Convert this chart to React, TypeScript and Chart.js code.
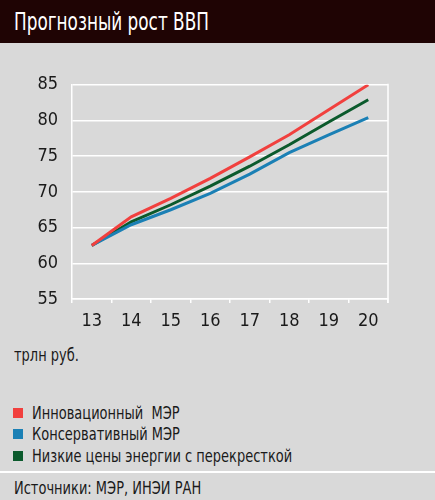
import { useEffect, useRef } from "react";
import { Chart, registerables } from "chart.js";

Chart.register(...registerables);

const years = ["13", "14", "15", "16", "17", "18", "19", "20"];
const innovative = [62.5, 66.5, 69.1, 71.9, 74.9, 78.0, 81.5, 85.0];
const conservative = [62.5, 65.4, 67.5, 69.8, 72.5, 75.5, 78.0, 80.4];
const lowEnergy = [62.5, 65.8, 68.2, 70.8, 73.6, 76.6, 79.8, 82.9];
const seriesNames = [
    "Инновационный  МЭР",
    "Консервативный МЭР",
    "Низкие цены энергии с перекресткой",
];
const seriesColors = ["#f1403e", "#1b80b5", "#0b5a2c"];

const FONT = "'Liberation Sans Narrow', 'DejaVu Sans Condensed', 'Roboto Condensed', sans-serif";

// narrow text like the original's condensed face
const Narrow = ({ children, k = 0.85 }: { children: React.ReactNode; k?: number }) => (
    <span style={{ display: "inline-block", transform: `scaleX(${k})`, transformOrigin: "left center", whiteSpace: "pre" }}>
        {children}
    </span>
);

const rightBorder = {
    id: "rightBorder",
    afterDraw(chart: Chart) {
        const { ctx, chartArea } = chart;
        ctx.save();
        ctx.strokeStyle = "#ffffff";
        ctx.lineWidth = 1.5;
        ctx.beginPath();
        ctx.moveTo(chartArea.right, chartArea.top - 1);
        ctx.lineTo(chartArea.right, chartArea.bottom + 4);
        ctx.stroke();
        ctx.restore();
    },
};

const GdpChart = () => {
    const chartRef = useRef<HTMLCanvasElement>(null);

    useEffect(() => {
        let chartInstance: Chart<"line", number[], string> | undefined;
        if (chartRef.current) {
            chartInstance = new Chart(chartRef.current, {
                type: "line",
                data: {
                    labels: years,
                    datasets: [innovative, conservative, lowEnergy].map((d, i) => ({
                        label: seriesNames[i],
                        data: d,
                        borderColor: seriesColors[i],
                        backgroundColor: seriesColors[i],
                        borderWidth: 3,
                        pointRadius: 0,
                        fill: false,
                        tension: 0,
                    })),
                },
                options: {
                    animation: false,
                    responsive: false,
                    devicePixelRatio: 1,
                    layout: { padding: { left: 0, right: 47, top: 22, bottom: 0 } },
                    plugins: {
                        legend: { display: false },
                        tooltip: { enabled: false },
                    },
                    scales: {
                        x: {
                            offset: true,
                            grid: {
                                offset: true,
                                drawOnChartArea: false,
                                tickLength: 4,
                                tickColor: "#ffffff",
                                lineWidth: 1.5,
                            },
                            border: { color: "#ffffff", width: 1.5 },
                            ticks: {
                                color: "#1a1a1a",
                                padding: 8,
                                font: { family: FONT, size: 18 },
                                maxRotation: 0,
                            },
                            afterFit: (scale) => {
                                scale.height = 41;
                            },
                        },
                        y: {
                            min: 55,
                            max: 85,
                            ticks: {
                                stepSize: 5,
                                color: "#1a1a1a",
                                padding: 14,
                                font: { family: FONT, size: 18 },
                            },
                            grid: {
                                color: "#ffffff",
                                lineWidth: 1.5,
                                drawTicks: false,
                            },
                            border: { color: "#ffffff", width: 1.5 },
                            afterFit: (scale) => {
                                scale.width = 72;
                            },
                        },
                    },
                },
                plugins: [rightBorder],
            });
        }
        return () => {
            if (chartInstance) {
                chartInstance.destroy();
            }
        };
    }, []);

    return <canvas ref={chartRef} width={435} height={280} />;
};

const App = () => {
    return (
        <div
            style={{
                position: "absolute",
                left: 0,
                top: 0,
                width: 435,
                height: 500,
                background: "#d9d9d9",
                fontFamily: FONT,
                color: "#1a1a1a",
                overflow: "hidden",
            }}
        >
            <div
                style={{
                    position: "absolute",
                    left: 0,
                    top: 0,
                    width: 435,
                    height: 43,
                    background: "#1f0404",
                    color: "#ffffff",
                    fontSize: 25,
                    lineHeight: "43px",
                    paddingLeft: 14,
                    boxSizing: "border-box",
                }}
            >
                <Narrow k={0.75}>Прогнозный рост ВВП</Narrow>
            </div>
            <div style={{ position: "absolute", left: 0, top: 60 }}>
                <GdpChart />
            </div>
            <div style={{ position: "absolute", left: 14, top: 344, fontSize: 17, lineHeight: "22px" }}>
                <Narrow>трлн руб.</Narrow>
            </div>
            <div style={{ position: "absolute", left: 13, top: 402 }}>
                {seriesNames.map((name, i) => (
                    <div
                        key={name}
                        style={{ display: "flex", alignItems: "center", height: 21.5, fontSize: 17 }}
                    >
                        <span style={{ width: 10, height: 10, background: seriesColors[i], marginRight: 9 }} />
                        <Narrow>{name}</Narrow>
                    </div>
                ))}
            </div>
            <div style={{ position: "absolute", left: 0, top: 471, width: 435, height: 2, background: "#ffffff" }} />
            <div style={{ position: "absolute", left: 14, top: 477, fontSize: 17, lineHeight: "22px" }}>
                <Narrow>Источники: МЭР, ИНЭИ РАН</Narrow>
            </div>
        </div>
    );
};

export default App;
